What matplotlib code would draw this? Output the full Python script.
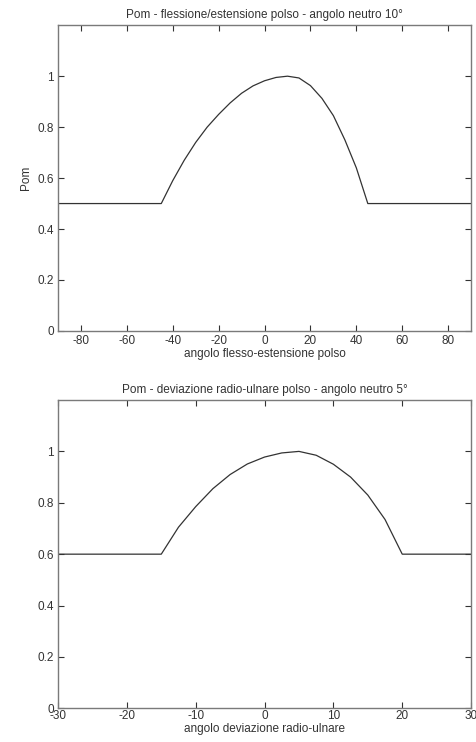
import numpy as np
from matplotlib import pyplot as plt

plt.rcParams['font.family'] = ['Liberation Sans', 'DejaVu Sans']
plt.rcParams['axes.unicode_minus'] = False

# flessione/estensione: angolo (gradi) e Pom
fe_angle = [-90, -45, -40, -35, -30, -25, -20, -15, -10, -5, 0, 5, 10,
            15, 20, 25, 30, 35, 40, 45, 90]
fe_pom = [0.5, 0.5, 0.59, 0.67, 0.74, 0.80, 0.85, 0.895, 0.933, 0.962, 0.982,
          0.995, 1.0, 0.993, 0.963, 0.913, 0.845, 0.75, 0.64, 0.5, 0.5]

# deviazione radio-ulnare: angolo (gradi) e Pom
ru_angle = [-30, -15, -12.5, -10, -7.5, -5, -2.5, 0, 2.5, 5, 7.5, 10,
            12.5, 15, 17.5, 20, 30]
ru_pom = [0.6, 0.6, 0.705, 0.785, 0.855, 0.91, 0.951, 0.978, 0.994, 1.0,
          0.985, 0.95, 0.90, 0.83, 0.735, 0.6, 0.6]

fe_xticks = [-80, -60, -40, -20, 0, 20, 40, 60, 80]
ru_xticks = [-30, -20, -10, 0, 10, 20, 30]
yticks = [0, 0.2, 0.4, 0.6, 0.8, 1]


def style_axes(ax):
    for s in ax.spines.values():
        s.set_color('#7a7a7a')
        s.set_linewidth(1.0)
    ax.tick_params(direction='in', length=4, width=0.8, color='#333333',
                   top=True, right=True, labelsize=8.5, labelcolor='#333333',
                   pad=3)
    ax.set_yticks(yticks)
    ax.set_yticklabels(['0', '0.2', '0.4', '0.6', '0.8', '1'])


fig = plt.figure(figsize=(4.77, 7.42), dpi=100)

ax1 = fig.add_axes([0.1216, 0.554, 0.866, 0.412])
ax1.plot(fe_angle, fe_pom, color='#333333', linewidth=0.9)
ax1.set_xlim(-90, 90)
ax1.set_ylim(0, 1.2)
ax1.set_xticks(fe_xticks)
style_axes(ax1)
ax1.set_title('Pom - flessione/estensione polso - angolo neutro 10°',
              fontsize=8.5, color='#333333', pad=5)
ax1.set_xlabel('angolo flesso-estensione polso', fontsize=8.5,
               color='#333333', labelpad=1)
ax1.set_ylabel('Pom', fontsize=8.5, color='#333333', labelpad=4)

ax2 = fig.add_axes([0.1216, 0.0454, 0.866, 0.4155])
ax2.plot(ru_angle, ru_pom, color='#333333', linewidth=0.9)
ax2.set_xlim(-30, 30)
ax2.set_ylim(0, 1.2)
ax2.set_xticks(ru_xticks)
style_axes(ax2)
ax2.tick_params(axis='x', pad=1)
ax2.set_title('Pom - deviazione radio-ulnare polso - angolo neutro 5°',
              fontsize=8.5, color='#333333', pad=5)
ax2.set_xlabel('angolo deviazione radio-ulnare', fontsize=8.5,
               color='#333333', labelpad=1)

fig.savefig('out.png', dpi=100)
